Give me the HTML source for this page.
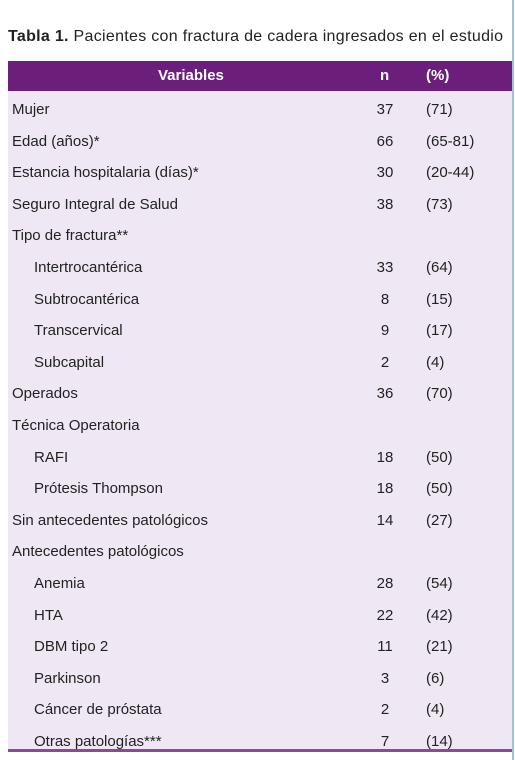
<!DOCTYPE html>
<html><head><meta charset="utf-8"><style>
body{margin:0;width:515px;height:760px;background:#fff;position:relative;font-family:"Liberation Sans",sans-serif;overflow:hidden}
#title{position:absolute;left:8px;top:28px;font-size:16px;color:#222;letter-spacing:0.3px;white-space:nowrap}
#vline{position:absolute;left:512px;top:0;width:2px;height:760px;background:#9cc3e6}
#head{position:absolute;left:8px;top:61px;width:504px;height:30px;background:#6b1f7b;color:#fff;font-weight:bold;font-size:15px}
#body{position:absolute;left:8px;top:91px;width:504px;height:658px;background:#efe8f4;border-bottom:3px solid #8a4a99}
.r{position:absolute;left:0;width:504px;height:31.6px;line-height:31.6px;font-size:15px;color:#222}
.r span{position:absolute}
.l{left:4px}.i{left:26px}.n{left:360px;width:34px;text-align:center}.p{left:418px}
</style></head><body>
<div id="title"><b>Tabla 1.</b> Pacientes con fractura de cadera ingresados en el estudio</div>
<div id="head">
<span style="position:absolute;left:150px;top:6px">Variables</span>
<span style="position:absolute;left:372px;top:6px">n</span>
<span style="position:absolute;left:418px;top:6px">(%)</span>
</div>
<div id="body"></div>
<div id="vline"></div>
<script>
const labels=["Mujer","Edad (años)*","Estancia hospitalaria (días)*","Seguro Integral de Salud","Tipo de fractura**","Intertrocantérica","Subtrocantérica","Transcervical","Subcapital","Operados","Técnica Operatoria","RAFI","Prótesis Thompson","Sin antecedentes patológicos","Antecedentes patológicos","Anemia","HTA","DBM tipo 2","Parkinson","Cáncer de próstata","Otras patologías***"];
const nVals=["37","66","30","38","","33","8","9","2","36","","18","18","14","","28","22","11","3","2","7"];
const pVals=["(71)","(65-81)","(20-44)","(73)","","(64)","(15)","(17)","(4)","(70)","","(50)","(50)","(27)","","(54)","(42)","(21)","(6)","(4)","(14)"];
const indent=[0,0,0,0,0,1,1,1,1,0,0,1,1,0,0,1,1,1,1,1,1];
const body=document.getElementById('body');
labels.forEach((t,k)=>{
 const r=document.createElement('div');r.className='r';r.style.top=(3+k*31.6)+'px';
 
 
 const a=document.createElement('span');a.className=indent[k]?'i':'l';a.textContent=t;
 
 
 const b=document.createElement('span');b.className='n';b.textContent=nVals[k];
 
 
 const c=document.createElement('span');c.className='p';c.textContent=pVals[k];
 
 
 r.append(a,b,c);body.appendChild(r);
});
</script>
</body></html>
